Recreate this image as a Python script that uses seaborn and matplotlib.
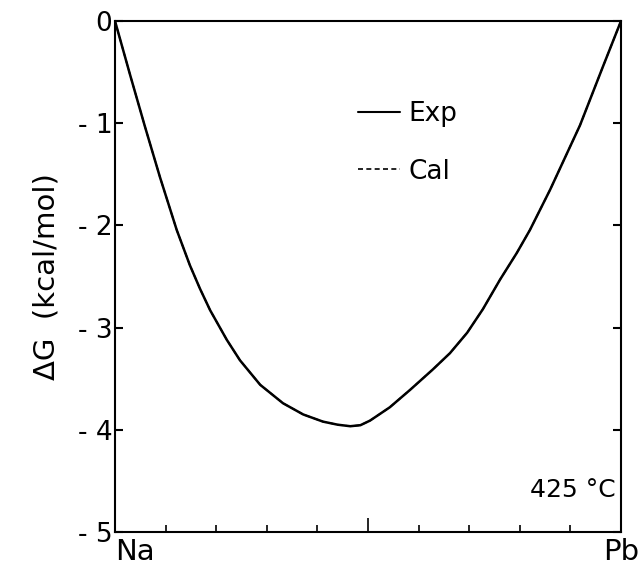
import matplotlib
matplotlib.use("Agg")
import matplotlib.pyplot as plt
import seaborn as sns
import pandas as pd
from matplotlib.lines import Line2D

# ---- data ----
x_frac = [0, 0.030, 0.059, 0.089, 0.122, 0.148, 0.168, 0.188, 0.221, 0.247,
          0.287, 0.332, 0.372, 0.411, 0.440, 0.465, 0.485, 0.504, 0.543,
          0.583, 0.628, 0.662, 0.696, 0.727, 0.761, 0.794, 0.820, 0.860,
          0.919, 0.964, 1.0]
dg_exp = [0, -0.53, -1.03, -1.53, -2.045, -2.39, -2.62, -2.83, -3.12, -3.32,
          -3.56, -3.74, -3.85, -3.92, -3.95, -3.965, -3.955, -3.91, -3.78,
          -3.61, -3.41, -3.25, -3.05, -2.82, -2.53, -2.27, -2.045, -1.65,
          -1.02, -0.45, 0]
dg_cal = [0, -0.53, -1.03, -1.53, -2.045, -2.39, -2.62, -2.83, -3.12, -3.32,
          -3.56, -3.74, -3.85, -3.92, -3.95, -3.965, -3.955, -3.91, -3.78,
          -3.61, -3.41, -3.25, -3.05, -2.82, -2.53, -2.27, -2.045, -1.65,
          -1.02, -0.45, 0]
series_names = ["Exp", "Cal"]
y_ticks = [-5, -4, -3, -2, -1, 0]
y_tick_labels = ["- 5", "- 4", "- 3", "- 2", "- 1", "0"]
x_ticks = [0, 0.1, 0.2, 0.3, 0.4, 0.5, 0.6, 0.7, 0.8, 0.9, 1.0]
end_labels = ["Na", "Pb"]
temp_label = "425 °C"
y_label = "ΔG  (kcal/mol)"

sns.set_style("white")
plt.rcParams["font.family"] = ["DejaVu Sans"]
plt.rcParams["text.color"] = "black"
plt.rcParams["axes.labelcolor"] = "black"
plt.rcParams["xtick.color"] = "black"
plt.rcParams["ytick.color"] = "black"

df = pd.DataFrame({
    "x": x_frac + x_frac,
    "dG": dg_exp + dg_cal,
    "series": [series_names[0]] * len(x_frac) + [series_names[1]] * len(x_frac),
})

fig = plt.figure(figsize=(6.43, 5.78), dpi=100)
ax = fig.add_axes([115 / 643, 1 - 532 / 578, (621 - 115) / 643, (532 - 21) / 578])

sns.lineplot(data=df[df.series == "Exp"], x="x", y="dG", ax=ax,
             color="black", lw=1.8, legend=False)
sns.lineplot(data=df[df.series == "Cal"], x="x", y="dG", ax=ax,
             color="black", lw=1.2, linestyle=(0, (3, 2)), legend=False)

ax.set_xlim(0, 1)
ax.set_ylim(-5, 0)

for s in ax.spines.values():
    s.set_visible(True)
    s.set_linewidth(1.5)
    s.set_color("black")

# y ticks
ax.set_yticks(y_ticks)
ax.set_yticklabels(y_tick_labels, fontsize=19, color="black")
ax.tick_params(axis="y", direction="in", length=6, width=1.5, pad=2,
               left=True, right=True)

# x ticks (inward), longer one at middle
ax.set_xticks(x_ticks)
ax.set_xticklabels([""] * len(x_ticks))
ax.tick_params(axis="x", direction="in", length=5, width=1.2, bottom=True, top=False)
mid_tick = ax.xaxis.get_major_ticks()[5]
mid_tick.tick1line.set_markersize(10)
for t in (ax.xaxis.get_major_ticks()[0], ax.xaxis.get_major_ticks()[-1]):
    t.tick1line.set_visible(False)

ax.text(0, -0.012, end_labels[0], transform=ax.get_xaxis_transform(),
        ha="left", va="top", fontsize=21, color="black")
ax.text(1, -0.012, end_labels[1], transform=ax.get_xaxis_transform(),
        ha="center", va="top", fontsize=21, color="black")

ax.set_xlabel("")
ax.set_ylabel(y_label, fontsize=21, labelpad=12, color="black")

handles = [Line2D([], [], color="black", lw=1.5),
           Line2D([], [], color="black", lw=1.2, linestyle=(0, (3, 2)))]
ax.legend(handles, series_names, loc="upper left",
          bbox_to_anchor=((358 - 115) / 506, (532 - 101) / 511),
          frameon=False, fontsize=19, handlelength=1.6, handletextpad=0.3,
          labelspacing=1.2, borderpad=0, borderaxespad=0, labelcolor="black")

ax.text(0.905, -4.59, temp_label, ha="center", va="center", fontsize=18,
        color="black")

fig.savefig("out.png", dpi=100)
